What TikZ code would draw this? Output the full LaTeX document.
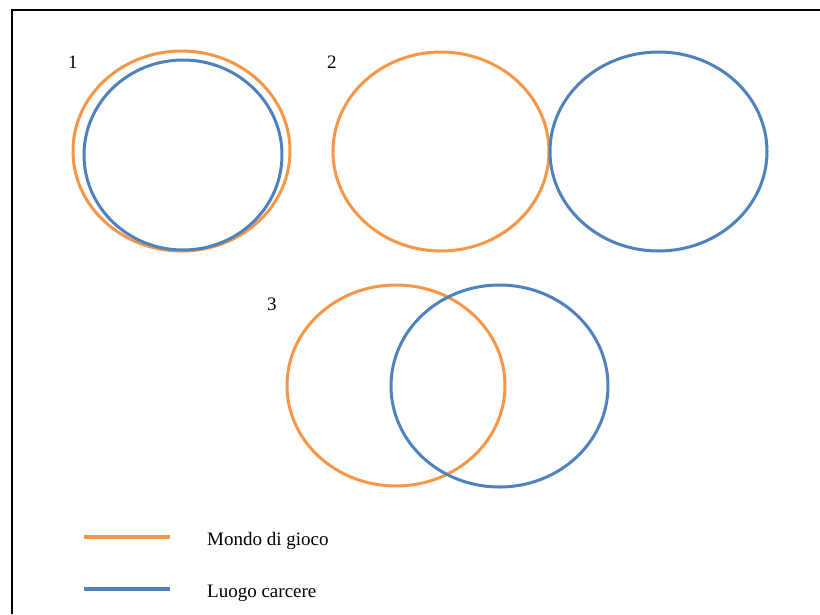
\documentclass[tikz,border=0pt]{standalone}
\usepackage{fontspec}
\setmainfont{Liberation Serif}
\definecolor{orng}{HTML}{F79646}
\definecolor{blu}{HTML}{4F81BD}
\begin{document}
\begin{tikzpicture}[x=1pt,y=-1pt,
  lbl/.style={anchor=base west,inner sep=0pt,font=\fontsize{19}{23}\selectfont},
  oring/.style={draw=orng,line width=3pt},
  bring/.style={draw=blu,line width=3pt},
  legline/.style={line width=4.5pt}]
\useasboundingbox (0,0) rectangle (820,614);
\draw[line width=2pt] (11.5,614) -- (11.5,10) -- (820,10);
% group 1
\draw[oring] (181.5,151) ellipse [x radius=108.5,y radius=100];
\draw[bring] (183,155) ellipse [x radius=99,y radius=95];
% group 2
\draw[oring] (441,151.5) ellipse [x radius=108,y radius=99.5];
\draw[bring] (658.5,151.5) ellipse [x radius=108.5,y radius=99.5];
% group 3
\draw[oring] (396,385.5) ellipse [x radius=109,y radius=100.5];
\draw[bring] (499.5,386) ellipse [x radius=108.5,y radius=101];
% labels
\node[lbl] (n1) at (68,68) {1};
\node[lbl] (n2) at (327,68) {2};
\node[lbl] (n3) at (267,310) {3};
% legend
\coordinate (oa) at (84,537);
\coordinate (ob) at (170,537);
\coordinate (ba) at (84,589);
\coordinate (bb) at (170,589);
\draw[legline,orng] (oa) -- (ob);
\draw[legline,blu] (ba) -- (bb);
\node[lbl] (t1) at (207,545) {Mondo di gioco};
\node[lbl] (t2) at (207,597) {Luogo carcere};
\end{tikzpicture}
\end{document}
